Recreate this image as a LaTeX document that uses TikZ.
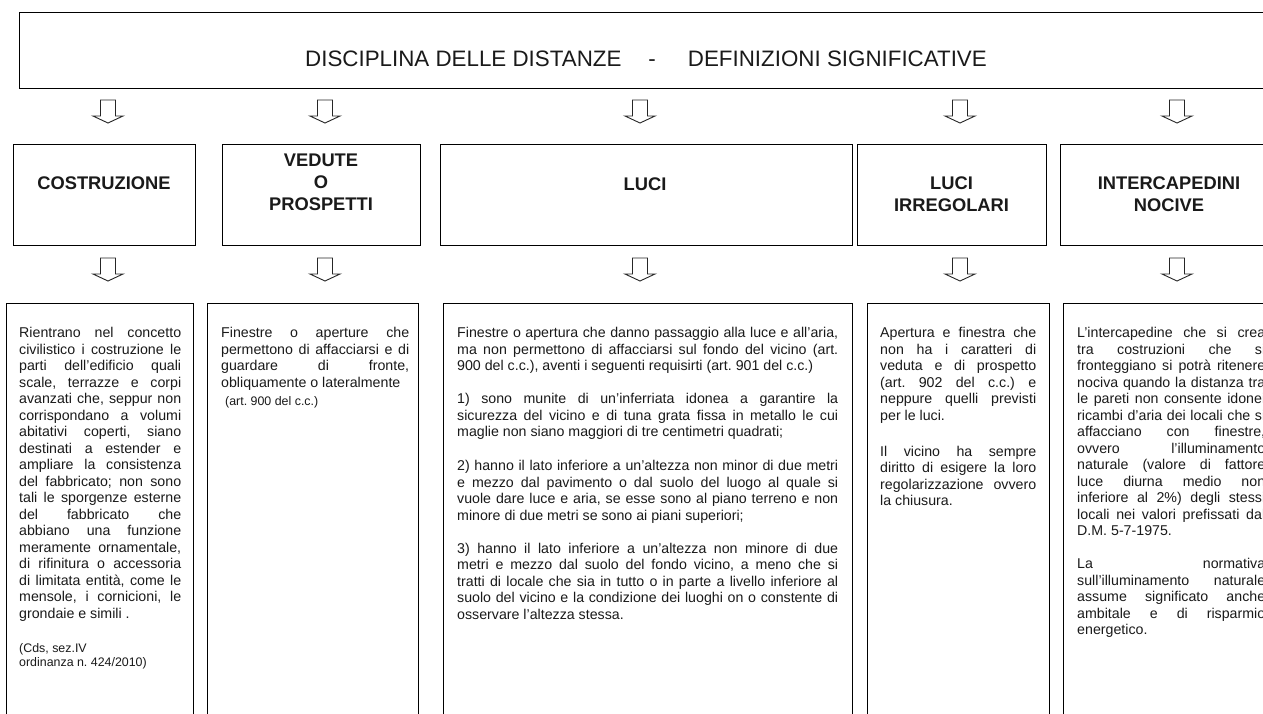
\documentclass[tikz,border=0pt]{standalone}
\usepackage{fontspec}
\setmainfont{Liberation Sans}
\frenchspacing
\definecolor{ink}{HTML}{1A1A1A}
\newcommand\JL[1]{\hbox to\hsize{#1}}
\newcommand\LL[1]{\hbox to\hsize{#1\hfil}}
\newcommand\CL[1]{\hbox to\hsize{\hss#1\hss}}
\newcommand\gapv[1]{\vskip#1pt}
\tikzset{
  frame/.style={draw=black, line width=1.3pt, inner sep=0pt, anchor=north west},
  body/.style={inner sep=0pt, anchor=base west, text=ink, font=\frenchspacing\fontsize{14.2}{16.5}\selectfont},
  head/.style={inner sep=0pt, anchor=base, text=ink, font=\bfseries\fontsize{18.3}{21.8}\selectfont},
  arrowline/.style={draw=black!85, line width=0.9pt, line join=miter},
  hollowarrow/.pic={\draw[arrowline] (-7.5,0) -- (7.5,0) -- (7.5,16) -- (15,16) -- (0,23) -- (-15,16) -- (-7.5,16) -- cycle;}
}
\begin{document}
\begin{tikzpicture}[x=1pt,y=-1pt]
\useasboundingbox (0,0) rectangle (1263,713);
\clip (0,0) rectangle (1263,713);
\fill[white] (0,0) rectangle (1263,713);

% title
\node[frame, minimum width=1261pt, minimum height=76pt] (titlebox) at (19,12) {};
\node[inner sep=0pt, anchor=base west, text=ink, font=\fontsize{22.35}{26}\selectfont] (title) at (305,66)
  {DISCIPLINA DELLE DISTANZE\hspace{27pt}-\hspace{32pt}DEFINIZIONI SIGNIFICATIVE};

% arrows row 1
\coordinate (a1) at (108,100); \coordinate (a2) at (325,100); \coordinate (a3) at (640,100);
\coordinate (a4) at (960,100); \coordinate (a5) at (1177,100);
\foreach \c in {a1,a2,a3,a4,a5} \pic at (\c) {hollowarrow};

% header boxes
\node[frame, minimum width=182pt, minimum height=101pt] (hb1) at (13,144) {};
\node[frame, minimum width=198pt, minimum height=101pt] (hb2) at (222,144) {};
\node[frame, minimum width=412pt, minimum height=101pt] (hb3) at (440,144) {};
\node[frame, minimum width=189pt, minimum height=101pt] (hb4) at (857,144) {};
\node[frame, minimum width=220pt, minimum height=101pt] (hb5) at (1060,144) {};

\node[head] (h1) at (104,189.5) {\vtop{\hsize=0pt \CL{COSTRUZIONE}}};
\node[head] (h2) at (321,166.5) {\vtop{\hsize=0pt \CL{VEDUTE}\CL{O}\CL{PROSPETTI}}};
\node[head] (h3) at (645,190) {\vtop{\hsize=0pt \CL{LUCI}}};
\node[head] (h4) at (951.5,189.5) {\vtop{\hsize=0pt \CL{LUCI}\CL{IRREGOLARI}}};
\node[head] (h5) at (1169,189.5) {\vtop{\hsize=0pt \CL{INTERCAPEDINI}\CL{NOCIVE}}};

% arrows row 2
\coordinate (b1) at (108,258); \coordinate (b2) at (325,258); \coordinate (b3) at (640,258);
\coordinate (b4) at (960,258); \coordinate (b5) at (1177,258);
\foreach \c in {b1,b2,b3,b4,b5} \pic at (\c) {hollowarrow};

% text boxes
\node[frame, minimum width=187pt, minimum height=460pt] (tb1) at (6,303) {};
\node[frame, minimum width=211pt, minimum height=460pt] (tb2) at (207,303) {};
\node[frame, minimum width=409pt, minimum height=460pt] (tb3) at (443,303) {};
\node[frame, minimum width=182pt, minimum height=460pt] (tb4) at (867,303) {};
\node[frame, minimum width=220pt, minimum height=460pt] (tb5) at (1063,303) {};

\node[body] (t1) at (19,337.5) {\vtop{\hsize=162pt
\JL{Rientrano nel concetto}
\JL{civilistico i costruzione le}
\JL{parti dell’edificio quali}
\JL{scale, terrazze e corpi}
\JL{avanzati che, seppur non}
\JL{corrispondano a volumi}
\JL{abitativi coperti, siano}
\JL{destinati a estender e}
\JL{ampliare la consistenza}
\JL{del fabbricato; non sono}
\JL{tali le sporgenze esterne}
\JL{del fabbricato che}
\JL{abbiano una funzione}
\JL{meramente ornamentale,}
\JL{di rifinitura o accessoria}
\JL{di limitata entità, come le}
\JL{mensole, i cornicioni, le}
\LL{grondaie e simili .}
\gapv{19.8}
\fontsize{12.4}{14.2}\selectfont
\LL{(Cds, sez.IV}
\LL{ordinanza n. 424/2010)}
}};

\node[body] (t2) at (221,337.5) {\vtop{\hsize=188pt
\JL{Finestre o aperture che}
\JL{permettono di affacciarsi e di}
\JL{guardare di fronte,}
\LL{obliquamente o lateralmente}
\gapv{1.5}
\LL{\fontsize{12.4}{14.2}\selectfont\hspace{4pt}(art. 900 del c.c.)}
}};

\node[body] (t3) at (457,337.5) {\vtop{\hsize=381pt
\JL{Finestre o apertura che danno passaggio alla luce e all’aria,}
\JL{ma non permettono di affacciarsi sul fondo del vicino (art.}
\LL{900 del c.c.), aventi i seguenti requisirti (art. 901 del c.c.)}
\gapv{16.5}
\JL{1) sono munite di un’inferriata idonea a garantire la}
\JL{sicurezza del vicino e di tuna grata fissa in metallo le cui}
\LL{maglie non siano maggiori di tre centimetri quadrati;}
\gapv{17.5}
\JL{2) hanno il lato inferiore a un’altezza non minor di due metri}
\JL{e mezzo dal pavimento o dal suolo del luogo al quale si}
\JL{vuole dare luce e aria, se esse sono al piano terreno e non}
\LL{minore di due metri se sono ai piani superiori;}
\gapv{16.5}
\JL{3) hanno il lato inferiore a un’altezza non minore di due}
\JL{metri e mezzo dal suolo del fondo vicino, a meno che si}
\JL{tratti di locale che sia in tutto o in parte a livello inferiore al}
\JL{suolo del vicino e la condizione dei luoghi on o constente di}
\LL{osservare l’altezza stessa.}
}};

\node[body] (t4) at (880,337.5) {\vtop{\hsize=156pt
\JL{Apertura e finestra che}
\JL{non ha i caratteri di}
\JL{veduta e di prospetto}
\JL{(art. 902 del c.c.) e}
\JL{neppure quelli previsti}
\LL{per le luci.}
\gapv{19.5}
\JL{Il vicino ha sempre}
\JL{diritto di esigere la loro}
\JL{regolarizzazione ovvero}
\LL{la chiusura.}
}};

\node[body] (t5) at (1077,337.5) {\vtop{\hsize=188pt
\JL{L’intercapedine che si crea}
\JL{tra costruzioni che si}
\JL{fronteggiano si potrà ritenere}
\JL{nociva quando la distanza tra}
\JL{le pareti non consente idonei}
\JL{ricambi d’aria dei locali che si}
\JL{affacciano con finestre,}
\JL{ovvero l’illuminamento}
\JL{naturale (valore di fattore}
\JL{luce diurna medio non}
\JL{inferiore al 2\%) degli stessi}
\JL{locali nei valori prefissati dal}
\LL{D.M. 5-7-1975.}
\gapv{16.5}
\JL{La normativa}
\JL{sull’illuminamento naturale}
\JL{assume significato anche}
\JL{ambitale e di risparmio}
\LL{energetico.}
}};
\end{tikzpicture}
\end{document}
